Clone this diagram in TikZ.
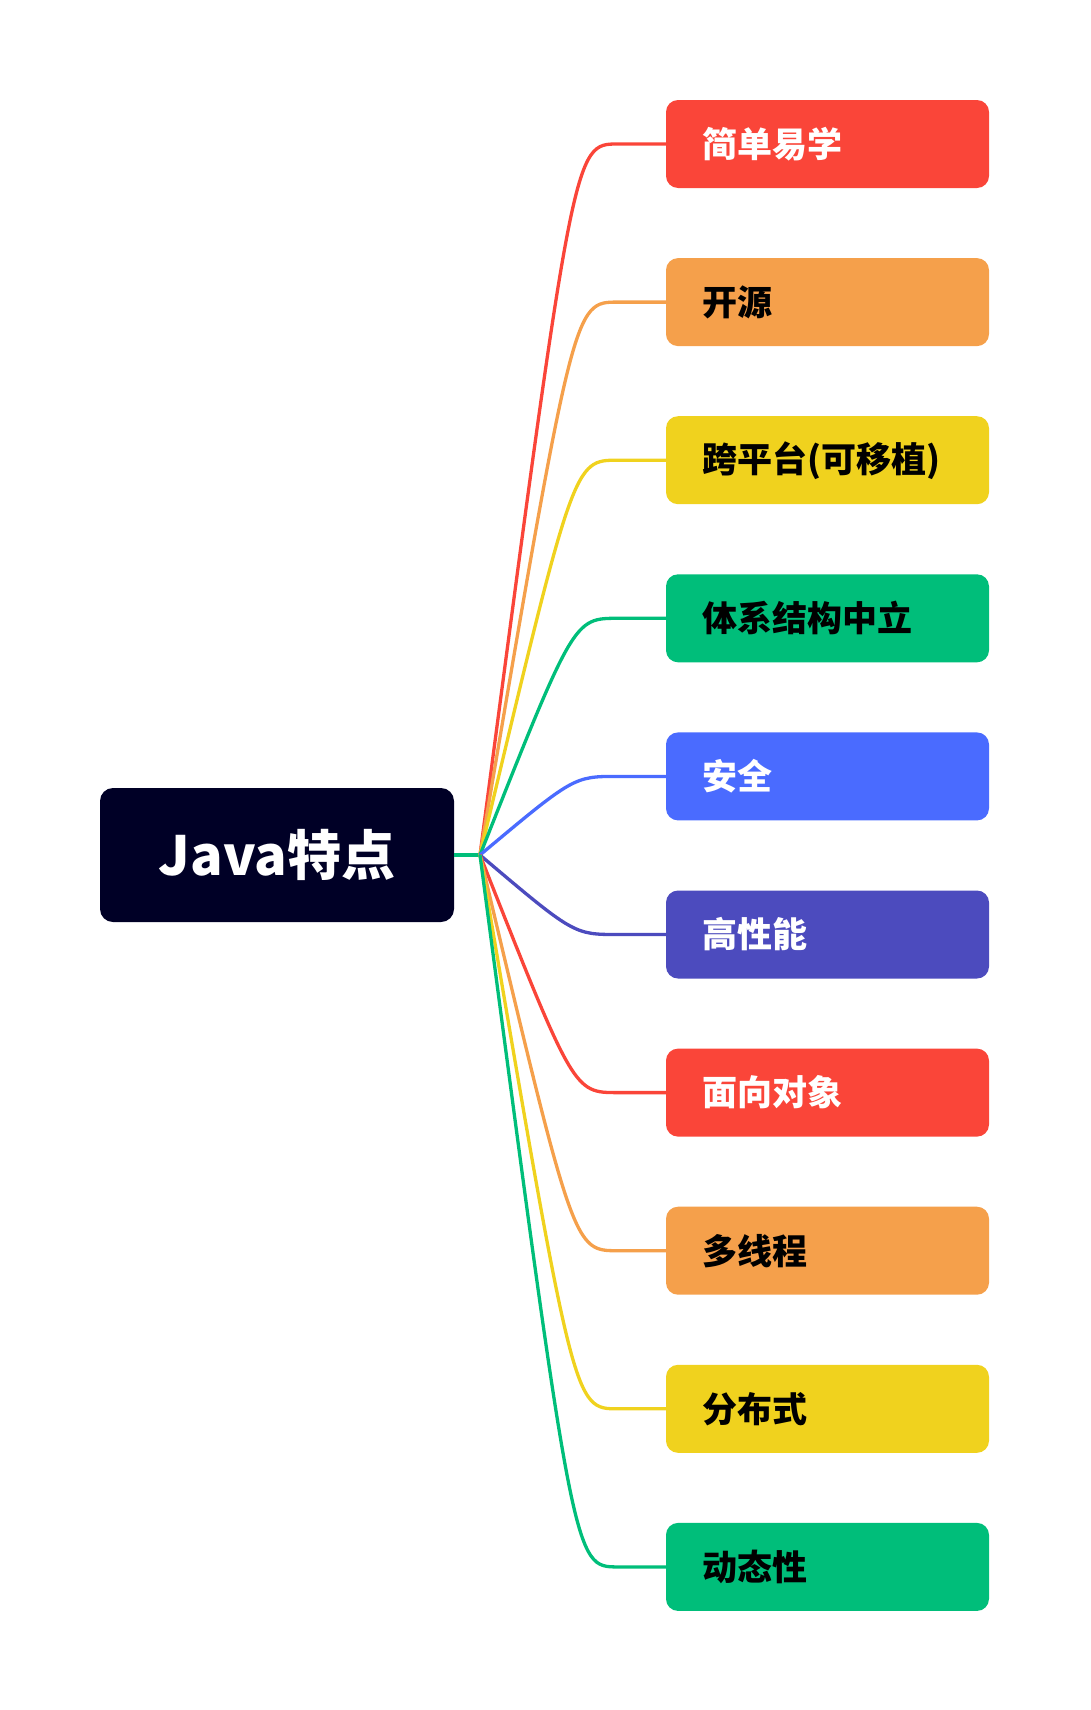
\documentclass[tikz,border=0pt]{standalone}
\usepackage{fontspec}
\setmainfont{Noto Sans CJK SC}
\usetikzlibrary{calc}
\definecolor{cred}{HTML}{FA4539}
\definecolor{corange}{HTML}{F5A04B}
\definecolor{cyellow}{HTML}{F0D21E}
\definecolor{cgreen}{HTML}{00BE7A}
\definecolor{cblue}{HTML}{4A6BFF}
\definecolor{cpurple}{HTML}{4C4BBE}
\definecolor{croot}{HTML}{000026}
\begin{document}
\begin{tikzpicture}[x=1pt,y=-1pt,
  branchbox/.style={rounded corners=12pt, minimum height=88pt, text width=251pt,
    inner xsep=36pt, inner ysep=0pt, align=left,
    font=\fontsize{35}{40}\selectfont\bfseries},
  rootbox/.style={fill=croot, rounded corners=13pt, minimum width=354pt,
    minimum height=134pt, text=white, inner sep=0pt,
    font=\fontsize{54}{60}\selectfont\bfseries},
  link/.style={line width=3.3pt}]
\useasboundingbox (0,0) rectangle (1090,1710);
\node[rootbox] (root) at (277,855) {Java特点};
\coordinate (J) at (480,855);
\foreach \i/\t/\c/\tc in {0/简单易学/cred/white, 1/开源/corange/black,
  2/跨平台(可移植)/cyellow/black, 3/体系结构中立/cgreen/black,
  4/安全/cblue/white, 5/高性能/cpurple/white, 6/面向对象/cred/white,
  7/多线程/corange/black, 8/分布式/cyellow/black, 9/动态性/cgreen/black} {
  \node[branchbox, fill=\c, text=\tc] (b\i) at (827.5, {144+158.1*\i}) {\t};
}
\draw[link, cgreen] (root.east) -- (J);
\foreach \i/\c in {0/cred, 1/corange, 2/cyellow, 3/cgreen, 4/cblue, 5/cpurple,
  6/cred, 7/corange, 8/cyellow, 9/cgreen} {
  \draw[link, \c] (J) .. controls ($(b\i.west)+(-92,0)$) .. ($(b\i.west)+(-48,0)$) -- (b\i.west);
}
\end{tikzpicture}
\end{document}
